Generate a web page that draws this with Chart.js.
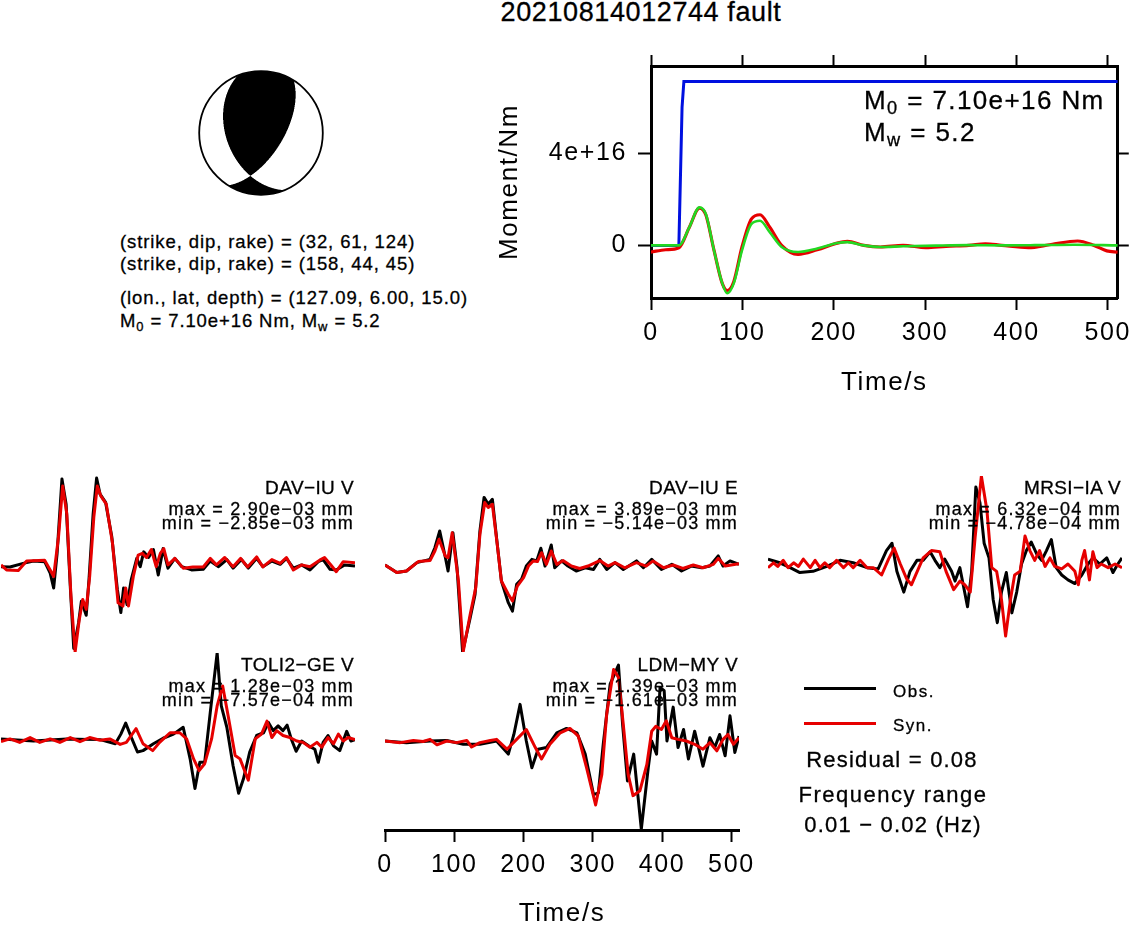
<!DOCTYPE html>
<html>
<head>
<meta charset="utf-8">
<title>20210814012744 fault</title>
<script src="https://cdn.jsdelivr.net/npm/chart.js@4.4.1/dist/chart.umd.min.js"></script>
<style>
  html, body { margin: 0; padding: 0; background: #fff; }
  body { position: relative; width: 1137px; height: 927px; overflow: hidden;
         font-family: "Liberation Sans", Arial, Helvetica, sans-serif; color: #000; }
  canvas { position: absolute; }
  .t { position: absolute; white-space: nowrap; line-height: 1; -webkit-text-stroke: 0.3px #000; }
  sub { font-size: 0.7em; line-height: 0; vertical-align: -0.3em; }
  .seg { position: absolute; height: 3px; }
</style>
</head>
<body>
<canvas id="beachball"></canvas>
<canvas id="moment"></canvas>
<canvas id="p0"></canvas>
<canvas id="p1"></canvas>
<canvas id="p2"></canvas>
<canvas id="p3"></canvas>
<canvas id="p4"></canvas>
<div class="seg" style="left:804px; top:687px; width:72px; background:#000;"></div>
<div class="seg" style="left:804px; top:722px; width:72px; background:#e60000;"></div>

<script>
// ---- values ----
const eventTitle = '20210814012744 fault';
const planeA = [32, 61, 124];      // strike, dip, rake
const planeB = [158, 44, 45];
const hypo = [127.09, 6.00, 15.0]; // lon, lat, depth
const m0Text = '7.10e+16';
const mwText = '5.2';
const residualText = '0.08';
const freqBand = ['0.01', '0.02'];

const timeTicks = [0, 100, 200, 300, 400, 500];
const momentTicks = [0, 4];            // x 1e16 Nm
const momentTickLabels = ['0', '4e+16'];
const T_MAX = 511;

// moment plot, time in s, moment in 1e16 Nm
const stfBlue = [[0, 0], [30.5, 0], [34, 6], [36, 7.12], [511, 7.12]];
const momentRed = [[0, -0.29], [16, -0.19], [30.6, -0.1], [42, 0.79], [53, 1.62], [60, 1.33], [69, -0.22],
  [78, -1.65], [83.4, -1.96], [90.6, -1.58], [99.6, -0.07], [110, 1.15], [119.4, 1.33], [130, 0.79],
  [143, 0], [161, -0.39], [182, -0.19], [204, 0.1], [215, 0.17], [233, 0], [251, -0.07], [276, 0],
  [301, -0.1], [323, -0.04], [348, 0], [366, 0.07], [384, 0], [413, -0.1], [438, 0.04], [467, 0.19],
  [485, 0], [499, -0.24], [511, -0.29]];
const momentGreen = [[0, 0], [30.6, 0], [42, 0.79], [53, 1.65], [60, 1.36], [69, -0.22], [78, -1.65],
  [83.4, -2.08], [90.6, -1.65], [99.6, -0.22], [110, 0.93], [119.4, 1.07], [130, 0.57], [143, -0.07],
  [161, -0.29], [182, -0.14], [204, 0.1], [215, 0.14], [233, 0], [251, -0.07], [276, -0.04], [312, -0.01],
  [348, 0.01], [384, 0], [420, 0.01], [463, 0.03], [511, 0]];

// waveforms, time in s, displacement in 1e-3 mm
const stationNames = ['DAV\u2212IU V', 'DAV\u2212IU E', 'MRSI\u2212IA V', 'TOLI2\u2212GE V', 'LDM\u2212MY V'];
const obsMaxText = ['2.90e\u221203', '3.89e\u221203', '6.32e\u221204', '1.28e\u221203', '1.39e\u221203'];
const obsMinText = ['\u22122.85e\u221203', '\u22125.14e\u221203', '\u22124.78e\u221204', '\u22127.57e\u221204', '\u22121.61e\u221203'];

const davV_obs = [[0, -0.09], [13, -0.1], [32, 0.02], [47, 0.1], [63, 0.08], [71, -0.31], [76, -0.81], [81, 0.36],
  [88, 2.87], [94, 2.02], [100, -0.76], [105, -2.85], [112, -1.98], [116, -1.26], [123, -1.73], [127, -0.53],
  [133, 1.69], [138, 2.9], [143, 2.36], [151, 2.08], [160, 0.91], [168, -0.87], [173, -1.64], [177, -0.81],
  [182, -1.37], [188, -0.53], [196, 0.19], [201, -0.09], [206, 0.41], [213, 0.22], [220, 0.49], [227, -0.37],
  [234, 0.52], [241, -0.14], [251, 0.19], [261, -0.09], [275, -0.2], [292, -0.18], [302, 0.1], [314, -0.09],
  [326, 0.15], [335, -0.14], [347, 0.15], [357, -0.14], [369, 0.19], [378, -0.09], [391, 0.1], [403, -0.01],
  [412, 0.19], [422, -0.14], [434, -0.03], [446, -0.2], [458, 0.08], [465, 0.15], [475, -0.18], [484, -0.2],
  [496, -0.03], [511, -0.07]];
const davV_syn = [[0, -0.03], [8, -0.2], [25, -0.22], [37, 0.1], [63, 0.13], [71, -0.2], [76, -0.42], [83, 0.91],
  [89, 2.63], [95, 1.69], [101, -1.09], [107, -2.97], [113, -1.87], [118, -1.2], [123, -1.53], [128, -0.42],
  [134, 1.58], [139, 2.63], [144, 2.3], [152, 2.02], [161, 0.69], [169, -1.31], [176, -1.42], [180, -0.81],
  [184, -1.42], [191, -0.42], [198, 0.3], [204, 0.36], [210, 0.22], [217, 0.49], [224, -0.09], [230, 0.36],
  [235, 0.52], [241, -0.03], [251, 0.19], [263, -0.14], [277, -0.1], [292, -0.1], [302, 0.19], [311, -0.03],
  [323, 0.22], [335, -0.09], [346, 0.19], [356, -0.1], [369, 0.24], [378, -0.1], [391, 0.15], [403, 0.02],
  [412, 0.22], [422, -0.2], [434, -0.03], [446, -0.09], [460, 0.13], [467, 0.22], [475, 0], [484, -0.26],
  [494, 0.08], [511, 0.04]];

const davE_obs = [[0, -0.06], [17, -0.5], [31, -0.41], [46, 0.08], [65, 0.27], [72, 0.95], [79, 1.93], [87, 0.41],
  [91, -0.41], [98, 1.83], [104, -0.22], [112, -5.14], [123, -3.14], [130, -1.78], [137, 1.93], [143, 3.89],
  [149, 3.49], [155, 3.78], [161, 1.54], [168, -0.99], [178, -2.26], [184, -2.75], [190, -1.19], [197, -0.9],
  [204, -0.12], [212, 0.27], [219, 0.18], [225, 0.92], [231, -0.12], [240, 1.11], [245, -0.22], [255, 0.18],
  [264, -0.12], [276, -0.41], [289, -0.22], [301, -0.32], [310, 0.27], [320, -0.32], [332, 0.08], [344, -0.32],
  [363, 0.18], [373, -0.22], [385, 0.27], [399, -0.32], [414, -0.02], [428, -0.41], [442, -0.12], [457, -0.22],
  [469, -0.12], [481, 0.47], [488, -0.12], [498, 0.18], [511, -0.02]];
const davE_syn = [[0, -0.06], [17, -0.5], [31, -0.41], [48, 0.14], [65, 0.2], [72, 0.76], [78, 1.44], [87, 0.47],
  [91, 0.37], [97, 1.83], [106, -0.99], [113, -5.1], [123, -2.94], [131, -1.38], [137, 1.73], [144, 3.59],
  [149, 3.3], [155, 3.49], [162, 1.15], [168, -0.99], [178, -1.77], [184, -2.16], [191, -1.29], [200, -0.8],
  [207, -0.12], [214, 0.18], [220, 0.14], [226, 0.66], [233, -0.02], [240, 0.76], [248, -0.02], [257, 0.2],
  [269, -0.12], [281, -0.26], [293, -0.12], [310, 0.2], [322, -0.12], [332, 0.08], [346, -0.22], [363, 0.08],
  [377, -0.12], [387, 0.18], [402, -0.22], [416, -0.06], [430, -0.26], [445, -0.06], [459, -0.22], [474, -0.02],
  [481, 0.33], [491, -0.12], [511, 0.02]];

const mrsi_obs = [[0, 0.04], [17, 0.01], [32, -0.03], [46, -0.07], [65, -0.06], [85, -0.02], [104, 0.03], [123, 0.01],
  [143, -0.03], [159, -0.04], [171, 0.11], [179, 0.17], [186, -0.06], [196, -0.23], [205, -0.06], [215, 0.03],
  [224, 0.03], [234, 0.1], [241, 0.03], [248, -0.03], [255, 0.04], [265, -0.06], [270, -0.14], [277, -0.03],
  [288, -0.35], [294, -0.06], [300, 0.63], [306, 0.5], [312, 0.17], [319, 0.05], [325, -0.29], [331, -0.48],
  [337, -0.23], [344, -0.07], [352, -0.4], [359, -0.23], [366, 0], [373, 0.11], [380, 0.18], [388, 0.08],
  [395, 0.03], [402, 0.11], [409, 0.2], [416, -0.03], [424, -0.09], [433, -0.13], [443, -0.16], [453, -0.09],
  [462, 0], [469, 0.05], [479, 0], [489, 0.05], [498, -0.07], [505, 0], [511, 0.05]];
const mrsi_syn = [[0, -0.03], [8, 0.01], [14, -0.02], [22, 0.03], [29, -0.03], [37, 0.01], [44, -0.02], [51, 0.04],
  [61, -0.03], [68, 0.03], [75, -0.03], [82, 0.01], [89, -0.03], [99, 0.03], [109, -0.03], [116, 0.01],
  [123, -0.03], [133, 0.03], [143, -0.03], [152, -0.03], [164, -0.09], [174, 0.04], [182, 0.13], [191, 0],
  [200, -0.12], [207, -0.17], [217, -0.04], [224, 0.05], [236, 0.11], [248, 0.1], [257, -0.06], [268, -0.21],
  [277, -0.14], [284, -0.17], [292, -0.23], [299, 0.22], [308, 0.72], [316, 0.44], [323, -0.03], [330, -0.06],
  [337, -0.29], [343, -0.59], [350, -0.29], [356, -0.09], [364, -0.06], [371, 0.23], [378, 0.11], [385, 0.03],
  [392, 0.11], [400, -0.02], [407, 0.05], [414, -0.02], [424, -0.04], [433, 0], [443, -0.06], [448, -0.17],
  [453, 0.03], [457, 0.11], [464, -0.13], [469, 0.1], [475, -0.03], [481, 0], [491, -0.03], [501, 0], [511, -0.03]];

const toli_obs = [[0, 0.03], [47, 0], [95, 0.03], [143, 0.02], [165, -0.04], [173, 0.1], [180, 0.26], [189, 0.03],
  [197, -0.16], [205, -0.14], [220, -0.04], [234, 0.04], [249, 0.1], [263, 0.2], [273, -0.26], [280, -0.69],
  [287, -0.31], [294, -0.31], [302, 0.41], [312, 1.28], [318, 0.51], [326, 0.2], [335, -0.36], [343, -0.76],
  [350, -0.55], [359, -0.16], [369, 0.08], [379, 0.12], [386, 0.27], [393, 0.15], [400, 0.22], [407, 0.15],
  [413, 0.23], [419, 0.03], [426, -0.15], [434, 0], [444, -0.07], [453, -0.12], [458, -0.31], [465, -0.02],
  [472, 0.08], [480, -0.07], [489, -0.14], [499, 0.14], [505, 0], [511, 0.02]];
const toli_syn = [[0, -0.01], [13, 0.03], [27, -0.02], [42, 0.05], [56, -0.02], [71, 0.03], [85, -0.02], [100, 0.05],
  [114, -0.01], [128, 0.05], [143, 0.01], [157, 0.03], [172, -0.05], [181, -0.02], [195, 0.18], [205, -0.04],
  [219, -0.14], [229, -0.02], [244, 0.12], [258, 0.12], [268, 0.03], [278, -0.26], [286, -0.43], [294, -0.33],
  [304, 0.03], [312, 0.51], [320, 0.8], [328, 0.36], [338, -0.21], [345, -0.26], [357, -0.57], [367, 0.03],
  [376, 0.1], [384, 0.29], [391, 0.05], [398, 0.15], [407, 0.08], [417, 0.05], [427, 0], [436, -0.02],
  [446, -0.09], [456, -0.02], [463, -0.09], [472, 0.05], [480, -0.04], [487, 0.1], [494, 0], [501, 0.05], [511, 0.02]];

const ldm_obs = [[0, 0], [31, -0.03], [65, 0], [89, 0.01], [113, -0.06], [137, -0.06], [161, 0], [178, -0.24],
  [186, 0.12], [195, 0.67], [204, 0], [212, -0.49], [221, -0.15], [233, -0.12], [248, 0.15], [262, 0.23],
  [277, 0.15], [289, -0.24], [301, -0.98], [308, -0.95], [315, -0.06], [325, 1.04], [337, 1.39], [343, 0.3],
  [350, -0.73], [359, -0.24], [370, -1.61], [380, -0.49], [385, 0], [392, -0.24], [397, 0.98], [403, 0.92],
  [407, 0], [416, 0.62], [423, -0.12], [431, 0.21], [438, -0.33], [447, 0.18], [459, -0.46], [469, 0.06],
  [476, -0.12], [483, 0.12], [491, -0.27], [498, 0.46], [505, -0.21], [511, 0.09]];
const ldm_syn = [[0, 0], [22, -0.03], [41, 0.01], [55, -0.01], [65, 0.03], [75, -0.07], [89, 0], [103, -0.03],
  [118, 0.01], [125, -0.11], [137, -0.03], [152, 0.01], [161, 0.03], [176, -0.15], [190, 0.03], [204, 0.21],
  [217, -0.12], [226, -0.33], [238, -0.06], [253, 0.15], [267, 0.23], [279, 0.09], [291, -0.49], [304, -1.17],
  [313, -0.61], [320, 0.49], [330, 1.31], [337, 1.16], [344, 0.3], [351, -0.61], [358, -1.0], [368, -0.91],
  [378, -0.43], [385, 0.18], [391, 0.27], [399, 0.21], [406, 0.37], [414, 0.06], [423, 0.03], [435, 0],
  [447, -0.06], [459, -0.15], [469, -0.03], [479, -0.18], [488, 0.03], [495, 0.12], [503, -0.06], [511, 0.06]];

const obsSeries = [davV_obs, davE_obs, mrsi_obs, toli_obs, ldm_obs];
const synSeries = [davV_syn, davE_syn, mrsi_syn, toli_syn, ldm_syn];

// ---- layout ----
const RED = '#e60000';
const GREEN = '#22d822';
const BLUE = '#0010e0';
const panelLayout = [
  { x0: 1, base: 564 }, { x0: 385, base: 564 }, { x0: 768, base: 564 },
  { x0: 1, base: 741 }, { x0: 385, base: 741 }
];
const PANEL_W = 354;
const HALF = 88;
const PAD = 6;

Chart.defaults.font.family = '"Liberation Sans", Arial, sans-serif';
Chart.defaults.color = '#000';
Chart.defaults.animation = false;

Chart.register({
  id: 'spacing',
  beforeDraw(chart, args, opts) {
    chart.ctx.letterSpacing = (opts && opts.px ? opts.px : 0) + 'px';
  }
});

function pts(arr) {
  return arr.map(([x, y]) => ({ x, y }));
}

function place(id, left, top, w, h) {
  const c = document.getElementById(id);
  c.width = w;
  c.height = h;
  c.style.left = left + 'px';
  c.style.top = top + 'px';
  c.style.width = w + 'px';
  c.style.height = h + 'px';
  return c;
}

function text(html, o) {
  const d = document.createElement('div');
  d.className = 't';
  d.innerHTML = html;
  d.style.fontSize = o.size + 'px';
  d.style.top = (o.cy - o.size * 0.5) + 'px';
  if (o.ls) d.style.letterSpacing = o.ls + 'px';
  if (o.align === 'right') {
    d.style.right = (1137 - o.x) + 'px';
  } else if (o.align === 'center') {
    d.style.left = (o.x - 400) + 'px';
    d.style.width = '800px';
    d.style.textAlign = 'center';
  } else {
    d.style.left = o.x + 'px';
  }
  document.body.appendChild(d);
}

const setTicks = (vals) => (scale) => { scale.ticks = vals.map((v) => ({ value: v })); };
const fixW = (w) => (scale) => { scale.width = w; };
const fixH = (h) => (scale) => { scale.height = h; };

// ---- text ----
text(eventTitle, { x: 641, cy: 12.5, size: 27, align: 'center', ls: 0.6 });
text(`(strike, dip, rake) = (${planeA.join(', ')})`, { x: 120, cy: 242, size: 18.5, ls: 0.9 });
text(`(strike, dip, rake) = (${planeB.join(', ')})`, { x: 120, cy: 264.5, size: 18.5, ls: 0.9 });
text(`(lon., lat, depth) = (${hypo[0].toFixed(2)}, ${hypo[1].toFixed(2)}, ${hypo[2].toFixed(1)})`,
  { x: 120, cy: 298, size: 18.5, ls: 0.9 });
text(`M<sub>0</sub> = ${m0Text} Nm, M<sub>w</sub> = ${mwText}`, { x: 120, cy: 321, size: 18.5, ls: 0.9 });
text(`M<sub>0</sub> = ${m0Text} Nm`, { x: 864, cy: 100, size: 26, ls: 1.4 });
text(`M<sub>w</sub> = ${mwText}`, { x: 864, cy: 132, size: 26, ls: 1.4 });

panelLayout.forEach((p, i) => {
  const right = p.x0 + 353;
  text(stationNames[i], { x: right, cy: p.base - 77, size: 19, align: 'right', ls: 0.4 });
  text(`max = ${obsMaxText[i]} mm`, { x: right, cy: p.base - 55, size: 18, align: 'right', ls: 1.2 });
  text(`min = ${obsMinText[i]} mm`, { x: right, cy: p.base - 41, size: 18, align: 'right', ls: 1.2 });
});

text('Obs.', { x: 893, cy: 691, size: 17, ls: 1.5 });
text('Syn.', { x: 893, cy: 725, size: 17, ls: 1.5 });
text(`Residual = ${residualText}`, { x: 892, cy: 760, size: 22, align: 'center', ls: 1.2 });
text('Frequency range', { x: 893, cy: 795, size: 22, align: 'center', ls: 1.5 });
text(`${freqBand[0]} \u2212 ${freqBand[1]} (Hz)`, { x: 893, cy: 825, size: 22, align: 'center', ls: 1.2 });

// ---- beachball (lower hemisphere, equal area) ----
function planeVectors([strike, dip, rake]) {
  const r = Math.PI / 180;
  const f = strike * r, d = dip * r, l = rake * r;
  const nu = [-Math.sin(d) * Math.sin(f), Math.sin(d) * Math.cos(f), -Math.cos(d)];
  const slip = [
    Math.cos(l) * Math.cos(f) + Math.cos(d) * Math.sin(l) * Math.sin(f),
    Math.cos(l) * Math.sin(f) - Math.cos(d) * Math.sin(l) * Math.cos(f),
    -Math.sin(l) * Math.sin(d)
  ];
  return { nu, slip };
}

const BB_R = 61.8;
const BB_HALF = 70;
const bbRange = BB_HALF / BB_R;

const beachballFill = {
  id: 'beachballFill',
  beforeDatasetsDraw(chart) {
    const { ctx, chartArea: a, scales: { x, y } } = chart;
    const { nu, slip } = planeVectors(planeA);
    const w = Math.round(a.right - a.left);
    const h = Math.round(a.bottom - a.top);
    const img = ctx.createImageData(w, h);
    const S = 3;
    for (let j = 0; j < h; j += 1) {
      for (let i = 0; i < w; i += 1) {
        let hit = 0;
        for (let sj = 0; sj < S; sj += 1) {
          for (let si = 0; si < S; si += 1) {
            const e = x.getValueForPixel(a.left + i + (si + 0.5) / S);
            const n = y.getValueForPixel(a.top + j + (sj + 0.5) / S);
            const r2 = e * e + n * n;
            if (r2 > 1) continue;
            const inc = 2 * Math.asin(Math.sqrt(r2) / Math.SQRT2);
            const az = Math.atan2(e, n);
            const ray = [Math.sin(inc) * Math.cos(az), Math.sin(inc) * Math.sin(az), Math.cos(inc)];
            const pn = ray[0] * nu[0] + ray[1] * nu[1] + ray[2] * nu[2];
            const ps = ray[0] * slip[0] + ray[1] * slip[1] + ray[2] * slip[2];
            if (pn * ps > 0) hit += 1;
          }
        }
        img.data[(j * w + i) * 4 + 3] = Math.round(255 * hit / (S * S));
      }
    }
    ctx.putImageData(img, a.left, a.top);
  },
  afterDatasetsDraw(chart) {
    const { ctx, scales: { x, y } } = chart;
    const cx = x.getPixelForValue(0);
    const cy = y.getPixelForValue(0);
    const rad = x.getPixelForValue(1) - cx;
    ctx.save();
    ctx.beginPath();
    ctx.arc(cx, cy, rad, 0, Math.PI * 2);
    ctx.lineWidth = 1.8;
    ctx.strokeStyle = '#000';
    ctx.stroke();
    ctx.restore();
  }
};

new Chart(place('beachball', 261 - BB_HALF, 133 - BB_HALF, 2 * BB_HALF, 2 * BB_HALF), {
  type: 'scatter',
  data: { datasets: [] },
  options: {
    responsive: false,
    layout: { padding: 0, autoPadding: false },
    plugins: { legend: { display: false }, tooltip: { enabled: false } },
    scales: {
      x: { display: false, min: -bbRange, max: bbRange },
      y: { display: false, min: -bbRange, max: bbRange }
    }
  },
  plugins: [beachballFill]
});

// ---- moment plot ----
const M_LEFT = 494, M_TOP = 40, M_W = 643, M_H = 360;
const boxAxis = {
  border: { display: true, width: 3, color: '#000' },
  grid: { drawOnChartArea: false, drawTicks: true, tickWidth: 2, color: '#000' }
};

new Chart(place('moment', M_LEFT, M_TOP, M_W, M_H), {
  type: 'line',
  data: {
    datasets: [
      { data: pts(momentGreen), borderColor: GREEN, borderWidth: 2.6, pointRadius: 0, cubicInterpolationMode: 'monotone' },
      { data: pts(momentRed), borderColor: RED, borderWidth: 3.2, pointRadius: 0, cubicInterpolationMode: 'monotone' },
      { data: pts(stfBlue), borderColor: BLUE, borderWidth: 3, pointRadius: 0, tension: 0 }
    ]
  },
  options: {
    responsive: false,
    layout: { padding: 0, autoPadding: false },
    plugins: { legend: { display: false }, tooltip: { enabled: false }, spacing: { px: 1.6 } },
    scales: {
      x: {
        type: 'linear', position: 'bottom', min: 0, max: T_MAX,
        afterBuildTicks: setTicks(timeTicks), afterFit: fixH(M_TOP + M_H - 298),
        border: boxAxis.border,
        grid: { ...boxAxis.grid, tickLength: 12 },
        ticks: { padding: 8, font: { size: 25 }, maxRotation: 0, autoSkip: false },
        title: { display: true, text: 'Time/s', font: { size: 26 }, padding: { top: 0, bottom: 1.4 } }
      },
      x2: {
        type: 'linear', position: 'top', min: 0, max: T_MAX,
        afterBuildTicks: setTicks(timeTicks), afterFit: fixH(63 - M_TOP),
        border: boxAxis.border,
        grid: { ...boxAxis.grid, tickLength: 11 },
        ticks: { display: false }
      },
      y: {
        type: 'linear', position: 'left', min: -2.285, max: 7.79,
        afterBuildTicks: setTicks(momentTicks), afterFit: fixW(651 - M_LEFT),
        border: boxAxis.border,
        grid: { ...boxAxis.grid, tickLength: 13 },
        ticks: {
          padding: 11, font: { size: 25 },
          callback: (v) => momentTickLabels[momentTicks.indexOf(v)]
        },
        title: { display: true, text: 'Moment/Nm', font: { size: 26 }, padding: { top: 0, bottom: 0 } }
      },
      y2: {
        type: 'linear', position: 'right', min: -2.285, max: 7.79,
        afterBuildTicks: setTicks(momentTicks), afterFit: fixW(M_LEFT + M_W - 1124),
        border: boxAxis.border,
        grid: { ...boxAxis.grid, tickLength: 11 },
        ticks: { display: false }
      }
    }
  }
});

// ---- waveform panels ----
panelLayout.forEach((p, i) => {
  const obs = obsSeries[i];
  const syn = synSeries[i];
  const amp = Math.max(...obs.concat(syn).map((d) => Math.abs(d[1])));
  const withAxis = i === 4;
  const padL = withAxis ? 20 : PAD;
  const padR = withAxis ? 30 : PAD;
  const top = p.base - HALF - PAD;
  const axisH = 105;
  const h = withAxis ? (935 - top) : (2 * HALF + 2 * PAD);
  const lowHalf = withAxis ? HALF + 1 : HALF;
  const canvas = place('p' + i, p.x0 - padL, top, PANEL_W + padL + padR, h);

  new Chart(canvas, {
    type: 'line',
    data: {
      datasets: [
        { data: pts(syn), borderColor: RED, borderWidth: 3, pointRadius: 0, tension: 0, borderJoinStyle: 'round' },
        { data: pts(obs), borderColor: '#000', borderWidth: 3, pointRadius: 0, tension: 0, borderJoinStyle: 'round' }
      ]
    },
    options: {
      responsive: false,
      layout: {
        autoPadding: false,
        padding: { left: padL, right: padR, top: PAD, bottom: withAxis ? 0 : PAD }
      },
      plugins: { legend: { display: false }, tooltip: { enabled: false }, spacing: { px: 1.6 } },
      scales: {
        x: withAxis ? {
          type: 'linear', position: 'bottom', min: 0, max: T_MAX,
          afterBuildTicks: setTicks(timeTicks), afterFit: fixH(axisH),
          border: { display: true, width: 3, color: '#000' },
          grid: { drawOnChartArea: false, drawTicks: true, tickLength: 12, tickWidth: 2, color: '#000' },
          ticks: { padding: 8, font: { size: 25 }, maxRotation: 0, autoSkip: false },
          title: { display: true, text: 'Time/s', font: { size: 26 }, padding: { top: 0, bottom: 5.4 } }
        } : { type: 'linear', display: false, min: 0, max: T_MAX },
        y: { type: 'linear', display: false, min: -amp * lowHalf / HALF, max: amp }
      }
    }
  });
});
</script>
</body>
</html>
